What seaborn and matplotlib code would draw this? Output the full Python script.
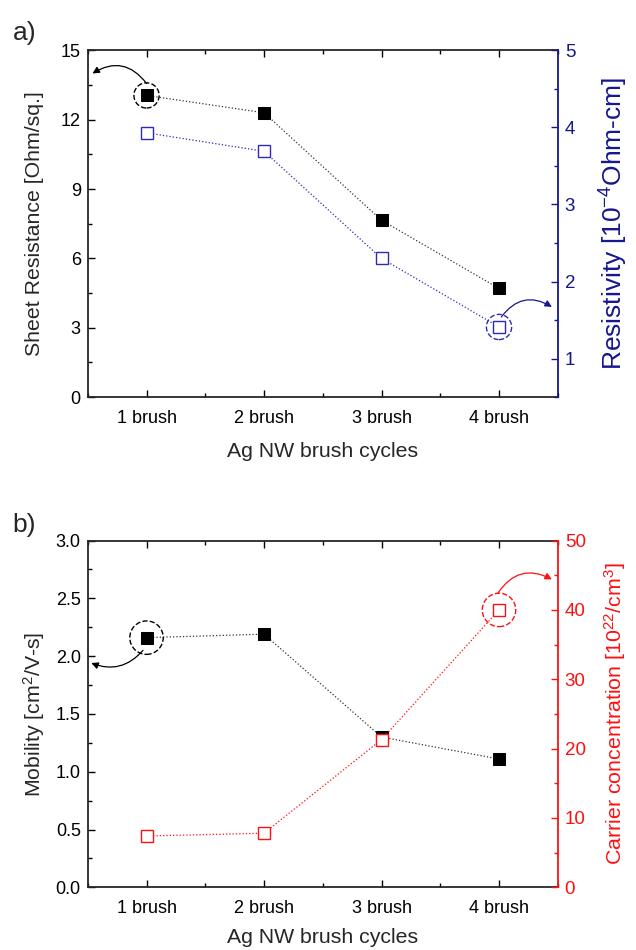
import pandas as pd
import matplotlib
matplotlib.use("Agg")
import matplotlib.pyplot as plt
from matplotlib.ticker import MultipleLocator, FormatStrFormatter
import seaborn as sns

# data
cycles = [1, 2, 3, 4]
cycle_labels = ['1 brush', '2 brush', '3 brush', '4 brush']
sheet_res = [13.05, 12.3, 7.65, 4.7]
resistivity = [3.93, 3.69, 2.30, 1.41]
mobility = [2.16, 2.19, 1.30, 1.11]
carrier = [7.4, 7.8, 21.3, 40.0]

sns.set_style('ticks')
plt.rcParams['font.family'] = ['Liberation Sans', 'DejaVu Sans']
plt.rcParams['mathtext.fontset'] = 'custom'
plt.rcParams['mathtext.rm'] = 'Liberation Sans'
plt.rcParams['mathtext.it'] = 'Liberation Sans:italic'
plt.rcParams['mathtext.bf'] = 'Liberation Sans:bold'

BLUE_AX = '#16168e'
BLUE = '#2b2bb8'
RED = '#ff1010'
LAB = 15.3

df_a = pd.DataFrame({'x': cycles, 'sheet': sheet_res, 'rho': resistivity})
df_b = pd.DataFrame({'x': cycles, 'mob': mobility, 'n': carrier})

fig = plt.figure(figsize=(6.36, 9.5), dpi=100)
ax1 = fig.add_axes([0.138, 0.582, 0.739, 0.365])
ax3 = fig.add_axes([0.138, 0.066, 0.739, 0.365])


def style_axes(ax, axr, rcolor, lmaj, lmin, rmaj, rmin):
    ax.set_xlim(0.5, 4.5)
    ax.set_xticks(cycles)
    ax.set_xticklabels(cycle_labels)
    ax.xaxis.set_minor_locator(MultipleLocator(0.5))
    ax.yaxis.set_major_locator(MultipleLocator(lmaj))
    ax.yaxis.set_minor_locator(MultipleLocator(lmin))
    axr.yaxis.set_major_locator(MultipleLocator(rmaj))
    axr.yaxis.set_minor_locator(MultipleLocator(rmin))
    ax.tick_params(which='both', direction='in', top=True, right=False,
                   labelsize=13, colors='black', pad=5)
    ax.tick_params(axis='x', which='major', pad=9)
    ax.tick_params(which='major', length=5, width=1)
    ax.tick_params(which='minor', length=3, width=1)
    axr.tick_params(which='both', direction='in', right=True, left=False,
                    labelsize=13.5, colors=rcolor, pad=5)
    axr.tick_params(which='major', length=5, width=1)
    axr.tick_params(which='minor', length=3, width=1)
    for s in ['left', 'top', 'bottom']:
        ax.spines[s].set_visible(True)
        ax.spines[s].set_linewidth(1.3)
        axr.spines[s].set_visible(False)
    ax.spines['right'].set_visible(False)
    axr.spines['right'].set_visible(True)
    axr.spines['right'].set_color(rcolor)
    axr.spines['right'].set_linewidth(1.3)


# ---- panel a ----
ax2 = ax1.twinx()
sns.lineplot(data=df_a, x='x', y='sheet', ax=ax1, color='#333333', linestyle=':',
             linewidth=0.9, marker='s', markersize=8, markerfacecolor='black',
             markeredgecolor='black')
sns.lineplot(data=df_a, x='x', y='rho', ax=ax2, color=BLUE, linestyle=':',
             linewidth=0.9, marker='s', markersize=8, markerfacecolor='white',
             markeredgecolor=BLUE, markeredgewidth=1.0)
ax1.set_ylim(0, 15)
ax2.set_ylim(0.5, 5)
style_axes(ax1, ax2, BLUE_AX, 3, 1.5, 1, 0.5)
ax1.set_xlabel('Ag NW brush cycles', fontsize=LAB, labelpad=11)
ax1.set_ylabel('Sheet Resistance [Ohm/sq.]', fontsize=LAB, labelpad=12)
ax2.set_ylabel('Resistivity [10$^{-4}$Ohm-cm]', fontsize=19, color=BLUE_AX, labelpad=16)

ax1.scatter([cycles[0]], [sheet_res[0]], s=330, facecolors='none', edgecolors='black',
            linestyles='--', linewidths=1.0, zorder=5)
ax2.scatter([cycles[3]], [resistivity[3]], s=330, facecolors='none', edgecolors=BLUE,
            linestyles='--', linewidths=1.0, zorder=5)
ax1.annotate('', xy=(0.54, 14.0), xytext=(1.0, 13.57),
             arrowprops=dict(arrowstyle='-|>', color='black', lw=0.9,
                             connectionstyle='arc3,rad=0.45', shrinkA=0, shrinkB=0))
ax2.annotate('', xy=(4.45, 1.67), xytext=(4.02, 1.54),
             arrowprops=dict(arrowstyle='-|>', color=BLUE_AX, lw=0.9,
                             connectionstyle='arc3,rad=-0.45', shrinkA=0, shrinkB=0))
fig.text(0.02, 0.958, 'a)', fontsize=19)

# ---- panel b ----
ax4 = ax3.twinx()
sns.lineplot(data=df_b, x='x', y='mob', ax=ax3, color='#333333', linestyle=':',
             linewidth=0.9, marker='s', markersize=8, markerfacecolor='black',
             markeredgecolor='black')
sns.lineplot(data=df_b, x='x', y='n', ax=ax4, color=RED, linestyle=':',
             linewidth=0.9, marker='s', markersize=8, markerfacecolor='white',
             markeredgecolor=RED, markeredgewidth=1.0)
ax3.set_ylim(0, 3)
ax4.set_ylim(0, 50)
style_axes(ax3, ax4, RED, 0.5, 0.25, 10, 5)
ax3.yaxis.set_major_formatter(FormatStrFormatter('%.1f'))
ax3.set_xlabel('Ag NW brush cycles', fontsize=LAB, labelpad=8)
ax3.set_ylabel('Mobility [cm$^2$/V-s]', fontsize=LAB, labelpad=6)
ax4.set_ylabel('Carrier concentration [10$^{22}$/cm$^3$]', fontsize=15.4, color=RED, labelpad=12)

ax3.scatter([cycles[0]], [mobility[0]], s=580, facecolors='none', edgecolors='black',
            linestyles='--', linewidths=1.0, zorder=5)
ax4.scatter([cycles[3]], [carrier[3]], s=580, facecolors='none', edgecolors=RED,
            linestyles='--', linewidths=1.0, zorder=5)
ax3.annotate('', xy=(0.53, 1.94), xytext=(0.97, 2.05),
             arrowprops=dict(arrowstyle='-|>', color='black', lw=0.9,
                             connectionstyle='arc3,rad=-0.35', shrinkA=0, shrinkB=0))
ax4.annotate('', xy=(4.45, 44.4), xytext=(3.99, 42.4),
             arrowprops=dict(arrowstyle='-|>', color=RED, lw=0.9,
                             connectionstyle='arc3,rad=-0.45', shrinkA=0, shrinkB=0))
fig.text(0.02, 0.44, 'b)', fontsize=19)

fig.savefig('out.png', dpi=100)
